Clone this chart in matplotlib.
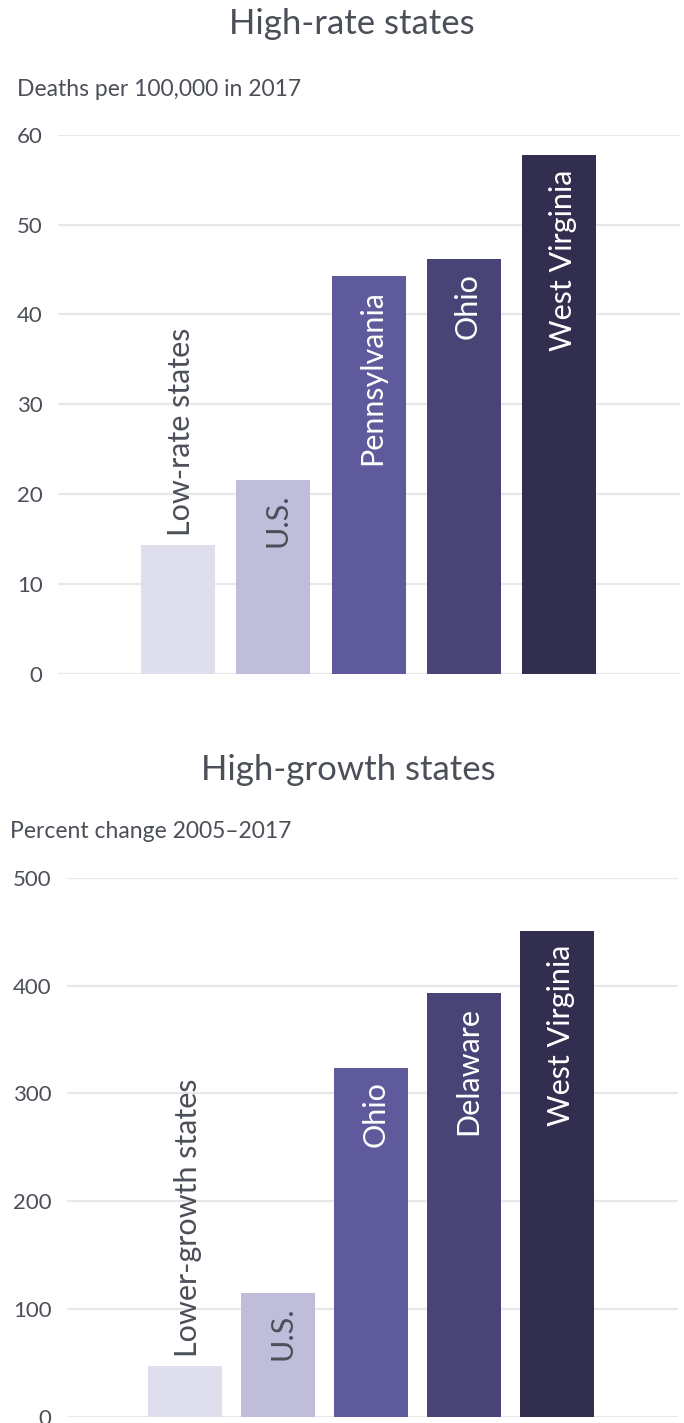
import numpy as np
import matplotlib
matplotlib.use("Agg")
import matplotlib.pyplot as plt

plt.rcParams['font.family'] = ['Lato', 'DejaVu Sans']

# ---------------- data ----------------
rate_labels = ['Low-rate states', 'U.S.', 'Pennsylvania', 'Ohio', 'West Virginia']
rate_values = [14.3, 21.6, 44.3, 46.2, 57.7]
rate_ticks = [0, 10, 20, 30, 40, 50, 60]

growth_labels = ['Lower-growth states', 'U.S.', 'Ohio', 'Delaware', 'West Virginia']
growth_values = [47, 115, 324, 393, 451]
growth_ticks = [0, 100, 200, 300, 400, 500]

bar_colors = ['#dfdeec', '#c0bdda', '#5e5a9c', '#484475', '#322e4f']
text_grey = '#4b4f58'
grid_grey = '#e8e8e8'

W, H = 684, 1423
fig = plt.figure(figsize=(W / 100, H / 100), dpi=100)


def draw_panel(rect, labels, values, ticks, xlim, width, title, title_xy, subtitle, sub_xy):
    ax = fig.add_axes(rect)
    x = np.arange(len(values))
    ax.bar(x, values, width=width, color=bar_colors, zorder=2)
    ax.set_xlim(*xlim)
    ax.set_ylim(ticks[0], ticks[-1])
    ax.set_yticks(ticks)
    ax.set_xticks([])
    ax.yaxis.grid(True, color=grid_grey, linewidth=1.6, zorder=0)
    ax.tick_params(axis='y', length=0, pad=11, labelsize=16, labelcolor=text_grey)
    for s in ax.spines.values():
        s.set_visible(False)

    for i, (lab, v) in enumerate(zip(labels, values)):
        if i == 0:
            # short bar: label sits above the bar
            ax.annotate(lab, (x[i], v), xytext=(2, 7), textcoords='offset points',
                        rotation=90, ha='center', va='bottom', fontsize=22,
                        color=text_grey)
        else:
            col = text_grey if i == 1 else 'white'
            ax.annotate(lab, (x[i], v), xytext=(3, -10), textcoords='offset points',
                        rotation=90, ha='center', va='top', fontsize=22,
                        color=col, zorder=3)

    fig.text(title_xy[0] / W, 1 - title_xy[1] / H, title, ha='center', va='center',
             fontsize=25, color=text_grey)
    fig.text(sub_xy[0] / W, 1 - sub_xy[1] / H, subtitle, ha='left', va='center',
             fontsize=16.5, color=text_grey)
    return ax


draw_panel([58 / W, 1 - 674 / H, (680 - 58) / W, (674 - 134.7) / H],
           rate_labels, rate_values, rate_ticks, (-1.26, 5.27), 0.777,
           'High-rate states', (352, 24), 'Deaths per 100,000 in 2017', (17, 90))

draw_panel([67 / W, 1 - 1417 / H, (678 - 67) / W, (1417 - 877.7) / H],
           growth_labels, growth_values, growth_ticks, (-1.27, 5.30), 0.796,
           'High-growth states', (348, 770), 'Percent change 2005\u20132017', (10, 832))

fig.savefig('out.png', dpi=100)
